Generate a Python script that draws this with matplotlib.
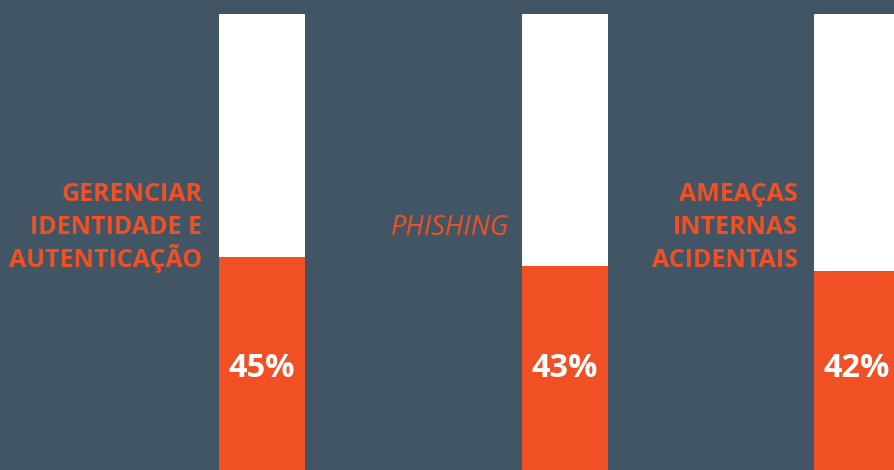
import matplotlib
matplotlib.use("Agg")
import matplotlib.pyplot as plt
import matplotlib.transforms as mtransforms

categories = [["GERENCIAR", "IDENTIDADE E", "AUTENTICAÇÃO"], ["PHISHING"], ["AMEAÇAS", "INTERNAS", "ACIDENTAIS"]]
values = [45, 43, 42]
value_labels = ["45%", "43%", "42%"]
full_value = 100

BG = "#415565"
ORANGE = "#F15025"

fig = plt.figure(figsize=(8.94, 4.70), dpi=100, facecolor=BG)
ax = fig.add_axes([0, 0, 1, 1])
ax.set_facecolor(BG)

px_per_unit = 4.427
zero_px = 456.5  # from top
ymin = -(470 - zero_px) / px_per_unit
ymax = zero_px / px_per_unit
ax.set_ylim(ymin, ymax)
spacing = 297.5
x0 = 262.0
ax.set_xlim(-x0 / spacing, (894 - x0) / spacing)

pos = [0, 1.0185, 2]
width = 86 / spacing
ax.bar(pos, [full_value - ymin + 5] * len(pos), bottom=ymin - 5, width=width, color="white", linewidth=0)
ax.bar(pos, [v - ymin + 5 for v in values], bottom=ymin - 5, width=width, color=ORANGE, linewidth=0)

trans = mtransforms.blended_transform_factory(ax.transData, ax.transAxes)
FAM = ["Open Sans", "DejaVu Sans"]
for i, (lines, lab) in enumerate(zip(categories, value_labels)):
    italic = (lines == ["PHISHING"])
    if italic:
        ax.annotate(lines[0], xy=(pos[i] - width / 2, 1 - 235 / 470), xycoords=trans,
                    xytext=(-9.5, 0), textcoords="offset points",
                    ha="right", va="baseline", color=ORANGE,
                    fontsize=19.5, family=FAM, fontweight="normal", style="italic")
    else:
        for j, line in enumerate(lines):
            base = 201 + 33 * j
            ax.annotate(line, xy=(pos[i] - width / 2, 1 - base / 470), xycoords=trans,
                        xytext=(-11.8, 0), textcoords="offset points",
                        ha="right", va="baseline", color=ORANGE,
                        fontsize=18, family=FAM, fontweight="bold")
    ax.text(pos[i], 1 - 377 / 470, lab, transform=trans, ha="center", va="baseline",
            color="white", fontsize=23.5, fontweight="bold", family=FAM)

ax.axis("off")
fig.savefig("out.png", dpi=100, facecolor=BG)
